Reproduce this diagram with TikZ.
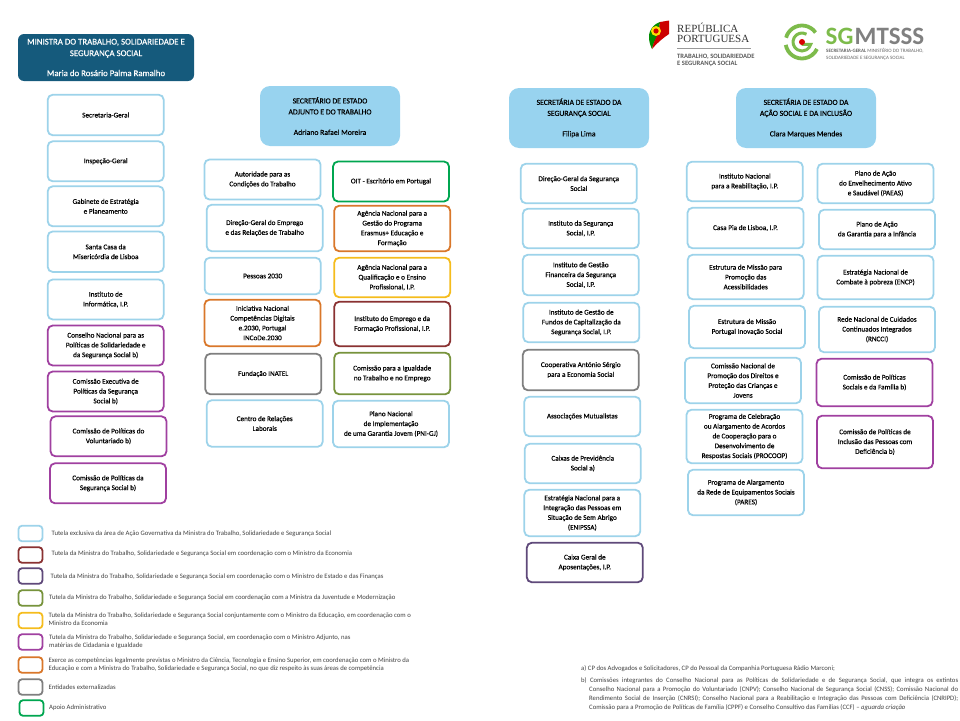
\documentclass[tikz,border=0pt]{standalone}
\usepackage{fontspec}
\setmainfont{Carlito}
\newfontfamily\flagserif{Liberation Serif}
\newfontfamily\boxfont[FakeBold=0.35]{Carlito}
\usepackage{xcolor}
\usepackage{tikz}
\definecolor{tutblue}{HTML}{9DD3EA}
\definecolor{headblue}{HTML}{98D3EF}
\definecolor{ministerblue}{HTML}{155A7C}
\definecolor{tutred}{HTML}{8A3232}
\definecolor{tutindigo}{HTML}{5F497A}
\definecolor{tutolive}{HTML}{77933C}
\definecolor{tutyellow}{HTML}{F5BC1C}
\definecolor{tutpurple}{HTML}{A040A0}
\definecolor{tutorange}{HTML}{D9772A}
\definecolor{tutgray}{HTML}{7F7F7F}
\definecolor{tutgreen}{HTML}{00A650}
\definecolor{sggreen}{HTML}{7DBB4B}

\begin{document}
\begin{tikzpicture}[
    x = 1pt,
    y = -1pt,
    boxf/.style = {
      rectangle,
      draw=tutblue,
      fill=white,
      rounded corners=5pt,
      line width=1.8pt,
      minimum width=116pt,
      inner sep=0pt,
      align=center,
      font=\boxfont\fontsize{7.2}{9.8}\selectfont
    },
    bluef/.style = {boxf, draw=tutblue},
    redf/.style = {boxf, draw=tutred},
    indigof/.style = {boxf, draw=tutindigo},
    olivef/.style = {boxf, draw=tutolive},
    yellowf/.style = {boxf, draw=tutyellow},
    purplef/.style = {boxf, draw=tutpurple},
    orangef/.style = {boxf, draw=tutorange},
    grayf/.style = {boxf, draw=tutgray},
    greenf/.style = {boxf, draw=tutgreen},
    headf/.style = {
      rectangle,
      fill=headblue,
      rounded corners=10pt,
      minimum width=140pt,
      minimum height=60pt,
      inner sep=0pt,
      align=center,
      font=\boxfont\fontsize{7.7}{11}\selectfont
    },
    keyf/.style = {minimum width=24pt, minimum height=15.5pt, rounded corners=3.5pt},
    keytext/.style = {
      anchor=west,
      inner sep=0pt,
      align=left,
      text=black!75,
      font=\fontsize{6.7}{8.3}\selectfont
    },
    notetext/.style = {
      anchor=north west,
      inner sep=0pt,
      text=black!75,
      font=\fontsize{6.7}{9}\selectfont
    }
  ]
    \useasboundingbox (0,0) rectangle (960,720);

    % ministra
    \node[rectangle, fill=ministerblue, rounded corners=6pt, minimum width=176pt, minimum height=47pt,
      inner sep=0pt, align=center, text=white, font=\boxfont\fontsize{8.8}{11.5}\selectfont] (ministra) at (106,57.5)
      {MINISTRA DO TRABALHO, SOLIDARIEDADE E\\SEGURANÇA SOCIAL\\[8.5pt]Maria do Rosário Palma Ramalho};

    % coluna da ministra
    \node[bluef, minimum height=40.5pt] (secgeral) at (105.7,115) {Secretaria-Geral};
    \node[bluef, minimum height=40pt] (inspecao) at (105.7,161.3) {Inspeção-Geral};
    \node[bluef, minimum height=40pt] (gabinete) at (105.7,206.3) {Gabinete de Estratégia\\e Planeamento};
    \node[bluef, minimum height=40.5pt] (santacasa) at (105.7,251.7) {Santa Casa da\\Misericórdia de Lisboa};
    \node[bluef, minimum height=40pt] (informatica) at (105.7,299.5) {Instituto de\\Informática, I.P.};
    \node[purplef, minimum height=40pt] (conselho) at (105.7,345.5)
      {Conselho Nacional para as\\Políticas de Solidariedade e\\da Segurança Social b)};
    \node[purplef, minimum height=40pt] (executiva) at (105.7,391.5)
      {Comissão Executiva de\\Políticas da Segurança\\Social b)};
    \node[purplef, minimum height=40pt] (voluntariado) at (108.5,436.3) {Comissão de Políticas do\\Voluntariado b)};
    \node[purplef, minimum height=40pt] (politicasseg) at (108,483.3) {Comissão de Políticas da\\Segurança Social b)};

    % secretario adjunto e do trabalho
    \node[headf] (sedt) at (330,116)
      {SECRETÁRIO DE ESTADO\\ADJUNTO E DO TRABALHO\\[9.5pt]Adriano Rafael Moreira};
    \node[bluef, minimum height=40pt] (act) at (262.5,179.5) {Autoridade para as\\Condições do Trabalho};
    \node[bluef, minimum height=46.5pt] (dgert) at (264.7,228) {Direção-Geral do Emprego\\e das Relações de Trabalho};
    \node[bluef, minimum height=36.5pt] (pessoas) at (262.7,276) {Pessoas 2030};
    \node[orangef, minimum height=46.5pt] (incode) at (262.5,323)
      {Iniciativa Nacional\\Competências Digitais\\e.2030, Portugal\\INCoDe.2030};
    \node[grayf, minimum height=40.5pt] (inatel) at (263.3,374) {Fundação INATEL};
    \node[bluef, minimum height=46.5pt] (crl) at (264.7,423.5) {Centro de Relações\\Laborais};
    \node[greenf, minimum height=40pt] (oit) at (391,181.5) {OIT - Escritório em Portugal};
    \node[orangef, minimum height=45.5pt] (erasmus) at (392.2,228.5)
      {Agência Nacional para a\\Gestão do Programa\\Erasmus+ Educação e\\Formação};
    \node[yellowf, minimum height=39.5pt] (anqep) at (392.2,277.5)
      {Agência Nacional para a\\Qualificação e o Ensino\\Profissional, I.P.};
    \node[redf, minimum height=44.5pt] (iefp) at (392.2,324) {Instituto do Emprego e da\\Formação Profissional, I.P.};
    \node[olivef, minimum height=41.5pt] (cite) at (392.2,373.5) {Comissão para a Igualdade\\no Trabalho e no Emprego};
    \node[bluef, minimum height=46.5pt] (garantia) at (391,424)
      {Plano Nacional\\de Implementação\\de uma Garantia Jovem (PNI-GJ)};

    % secretaria da seguranca social
    \node[headf] (sess) at (579,118)
      {SECRETÁRIA DE ESTADO DA\\SEGURANÇA SOCIAL\\[9.5pt]Filipa Lima};
    \node[bluef, minimum height=39.5pt] (dgss) at (578.8,183.5) {Direção-Geral da Segurança\\Social};
    \node[bluef, minimum height=39.5pt] (iss) at (580.8,228.5) {Instituto da Segurança\\Social, I.P.};
    \node[bluef, minimum height=40.5pt] (igfss) at (580.8,275) {Instituto de Gestão\\Financeira da Segurança\\Social, I.P.};
    \node[bluef, minimum height=39.5pt] (igfcss) at (581.3,322.5) {Instituto de Gestão de\\Fundos de Capitalização da\\Segurança Social, I.P.};
    \node[grayf, minimum height=40.5pt] (antonio) at (580.8,370) {Cooperativa António Sérgio\\para a Economia Social};
    \node[bluef, minimum height=39.5pt] (mutualistas) at (582.3,416.5) {Associações Mutualistas};
    \node[bluef, minimum height=39.5pt] (previdencia) at (582.8,463.5) {Caixas de Previdência\\Social a)};
    \node[bluef, minimum height=46.5pt] (enipssa) at (582.3,513)
      {Estratégia Nacional para a\\Integração das Pessoas em\\Situação de Sem Abrigo\\(ENIPSSA)};
    \node[indigof, minimum height=39.5pt] (cga) at (584.8,562.5) {Caixa Geral de\\Aposentações, I.P.};

    % secretaria da acao social e da inclusao
    \node[headf] (seasi) at (806,118)
      {SECRETÁRIA DE ESTADO DA\\AÇÃO SOCIAL E DA INCLUSÃO\\[9.5pt]Clara Marques Mendes};
    \node[bluef, minimum height=39.5pt] (inr) at (744.8,181.5) {Instituto Nacional\\para a Reabilitação, I.P.};
    \node[bluef, minimum height=40.5pt] (casapia) at (745.5,228) {Casa Pia de Lisboa, I.P.};
    \node[bluef, minimum height=44.5pt] (acessibilidades) at (745.7,277)
      {Estrutura de Missão para\\Promoção das\\Acessibilidades};
    \node[bluef, minimum height=42.5pt] (inovacao) at (747,327) {Estrutura de Missão\\Portugal Inovação Social};
    \node[bluef, minimum height=45.5pt] (cnpdpcj) at (743,380.5)
      {Comissão Nacional de\\Promoção dos Direitos e\\Proteção das Crianças e\\Jovens};
    \node[bluef, minimum height=53.5pt] (procoop) at (744.5,436.5)
      {Programa de Celebração\\ou Alargamento de Acordos\\de Cooperação para o\\Desenvolvimento de\\Respostas Sociais (PROCOOP)};
    \node[bluef, minimum height=45.5pt] (pares) at (746,492.5)
      {Programa de Alargamento\\da Rede de Equipamentos Sociais\\(PARES)};
    \node[bluef, minimum height=39.5pt] (paeas) at (875.5,183.5)
      {Plano de Ação\\do Envelhecimento Ativo\\e Saudável (PAEAS)};
    \node[bluef, minimum height=39.5pt] (infancia) at (877,229.5) {Plano de Ação\\da Garantia para a Infância};
    \node[bluef, minimum height=43.5pt] (encp) at (875.5,277.5) {Estratégia Nacional de\\Combate à pobreza (ENCP)};
    \node[bluef, minimum height=45.5pt] (rncci) at (877,329.5)
      {Rede Nacional de Cuidados\\Continuados Integrados\\(RNCCI)};
    \node[purplef, minimum height=47.5pt] (familia) at (874.5,382.5) {Comissão de Políticas\\Sociais e da Família b)};
    \node[purplef, minimum height=52.5pt] (deficiencia) at (875,442) {Comissão de Políticas de\\Inclusão das Pessoas com\\Deficiência b)};

    % legenda
    \node[bluef, keyf] (keyblue) at (30.5,533.5) {};
    \node[redf, keyf] (keyred) at (30.5,555) {};
    \node[indigof, keyf] (keyindigo) at (30.5,576) {};
    \node[olivef, keyf] (keyolive) at (30.5,598) {};
    \node[yellowf, keyf] (keyyellow) at (30.5,620.5) {};
    \node[purplef, keyf] (keypurple) at (30.5,642) {};
    \node[orangef, keyf] (keyorange) at (30.5,665) {};
    \node[grayf, keyf] (keygray) at (30.5,687) {};
    \node[greenf, keyf] (keygreen) at (31.5,708) {};
    \node[keytext] (txtblue) at (51.5,534) {Tutela exclusiva da área de Ação Governativa da Ministra do Trabalho, Solidariedade e Segurança Social};
    \node[keytext] (txtred) at (51.5,554) {Tutela da Ministra do Trabalho, Solidariedade e Segurança Social em coordenação com o Ministro da Economia};
    \node[keytext] (txtindigo) at (50.5,577) {Tutela da Ministra do Trabalho, Solidariedade e Segurança Social em coordenação com o Ministro de Estado e das Finanças};
    \node[keytext] (txtolive) at (49,598) {Tutela da Ministra do Trabalho, Solidariedade e Segurança Social em coordenação com a Ministra da Juventude e Modernização};
    \node[keytext] (txtyellow) at (48.5,619.5) {Tutela da Ministra do Trabalho, Solidariedade e Segurança Social conjuntamente com o Ministro da Educação, em coordenação com o\\Ministro da Economia};
    \node[keytext] (txtpurple) at (49,642) {Tutela da Ministra do Trabalho, Solidariedade e Segurança Social, em coordenação com o Ministro Adjunto, nas\\matérias de Cidadania e Igualdade};
    \node[keytext] (txtorange) at (48.5,665) {Exerce as competências legalmente previstas o Ministro da Ciência, Tecnologia e Ensino Superior, em coordenação com o Ministro da\\Educação e com a Ministra do Trabalho, Solidariedade e Segurança Social, no que diz respeito às suas áreas de competência};
    \node[keytext] (txtgray) at (48.5,687) {Entidades externalizadas};
    \node[keytext] (txtgreen) at (49,708) {Apoio Administrativo};

    % notas
    \node[notetext] (notea) at (581,665.5) {a) CP dos Advogados e Solicitadores, CP do Pessoal da Companhia Portuguesa Rádio Marconi;};
    \node[notetext, text width=377pt, align=justify] (noteb) at (581,677.5)
      {\hangindent=8pt\hangafter=1 b) Comissões integrantes do Conselho Nacional para as Políticas de Solidariedade e de Segurança Social, que integra os extintos\linebreak
      Conselho Nacional para a Promoção do Voluntariado (CNPV); Conselho Nacional de Segurança Social (CNSS); Comissão Nacional do\linebreak
      Rendimento Social de Inserção (CNRSI); Conselho Nacional para a Reabilitação e Integração das Pessoas com Deficiência (CNRIPD);\linebreak
      Comissão para a Promoção de Políticas de Família (CPPF) e Conselho Consultivo das Famílias (CCF) -- \emph{aguarda criação}\par};

    % logotipo republica portuguesa
    \fill[green!55!black] (649,37) .. controls (649,29) and (654,24) .. (660,22) -- (658,36) .. controls (654,41) and (653,45) .. (652,49) .. controls (650,45) and (649,41) .. (649,37) -- cycle;
    \fill[red!80!black] (660,22) -- (669,20.5) -- (669,34) .. controls (663,38) and (657,43) .. (652,49) .. controls (653,43) and (656,38) .. (658,34) -- cycle;
    \fill[yellow!80!orange] (656,31) circle (5pt);
    \fill[red!80!black] (656,31) circle (2.6pt);
    \node[inner sep=0pt, anchor=west, text=black!80, font=\flagserif\fontsize{11}{12}\selectfont] (republica) at (677,28) {REPÚBLICA};
    \node[inner sep=0pt, anchor=west, text=black!80, font=\flagserif\fontsize{11}{12}\selectfont] (portuguesa) at (677,39) {PORTUGUESA};
    \draw[black!40, line width=.4pt] (677,48) -- (751,48);
    \node[inner sep=0pt, anchor=west, text=black!65, font=\bfseries\fontsize{6.6}{7}\selectfont] (mtsss) at (677,56.5) {TRABALHO, SOLIDARIEDADE};
    \node[inner sep=0pt, anchor=west, text=black!65, font=\bfseries\fontsize{6.6}{7}\selectfont] (mtsssb) at (677,64) {E SEGURANÇA SOCIAL};

    % logotipo sgmtsss
    \draw[sggreen, line width=3.8pt] (802,42) ++(35:16.5pt) arc[start angle=35, end angle=165, radius=16.5pt];
    \draw[sggreen, line width=3.8pt] (802,42) ++(190:16.5pt) arc[start angle=190, end angle=335, radius=16.5pt];
    \draw[sggreen, line width=3pt] (802,42) ++(60:9pt) arc[start angle=60, end angle=345, radius=9pt] -- ++(-9pt,0pt);
    \fill[red!85!black] (802,42) circle (3pt);
    \node[inner sep=0pt, anchor=west, text=sggreen, font=\bfseries\fontsize{25}{26}\selectfont] (sg) at (825.5,36) {SG};
    \node[inner sep=0pt, anchor=west, text=black!50, font=\bfseries\fontsize{25}{26}\selectfont] (mt) at (854.5,36) {MTSSS};
    \node[inner sep=0pt, anchor=west, text=black!60, font=\fontsize{5}{6}\selectfont] (sgtxt) at (826,51) {\textbf{SECRETARIA-GERAL} MINISTÉRIO DO TRABALHO,};
    \node[inner sep=0pt, anchor=west, text=black!60, font=\fontsize{5}{6}\selectfont] (sgtxtb) at (826,58) {SOLIDARIEDADE E SEGURANÇA SOCIAL};
  \end{tikzpicture}
\end{document}
